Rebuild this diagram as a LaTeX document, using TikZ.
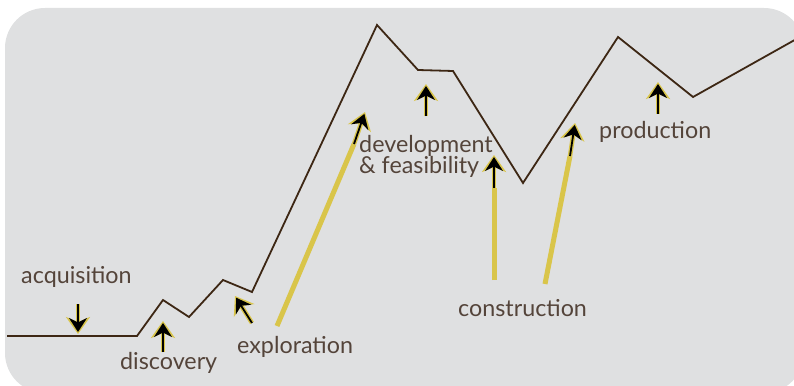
\documentclass[tikz,border=0pt]{standalone}
\usepackage{fontspec}
\setmainfont{Lato}
\usetikzlibrary{arrows.meta}
\definecolor{bgc}{HTML}{DFE0E1}
\definecolor{ridge}{HTML}{3D2714}
\definecolor{txt}{HTML}{54443A}
\definecolor{glow}{HTML}{D9C54A}
\tikzset{
  lbl/.style={anchor=base west, inner sep=0pt, text=txt, font=\fontsize{23.3}{23.3}\selectfont},
  glowarrow/.style={glow, line width=4.5pt, -{Stealth[length=17pt,width=24pt,inset=5pt]}},
  blackarrow/.style={black, line width=1.8pt, shorten >=2pt, -{Stealth[length=14pt,width=18pt,inset=4.5pt]}},
  stem/.style={glow, line width=5pt},
}
\begin{document}
\begin{tikzpicture}[x=1pt,y=-1pt]
\useasboundingbox (0,0) rectangle (794,385);
\clip (0,0) rectangle (794,385);
\fill[bgc, rounded corners=40pt] (5,8) rectangle (804,393);
% ridge profile
\coordinate (p0) at (7,336);
\coordinate (p1) at (137,336);
\coordinate (p2) at (163,300);
\coordinate (p3) at (189,317);
\coordinate (p4) at (223,280);
\coordinate (p5) at (252,292);
\coordinate (p6) at (377,25);
\coordinate (p7) at (418,70);
\coordinate (p8) at (453,71);
\coordinate (p9) at (523,183);
\coordinate (p10) at (618,37);
\coordinate (p11) at (693,97);
\coordinate (p12) at (800,37);
\draw[ridge, line width=1.8pt, line join=miter] (p0) -- (p1) -- (p2) -- (p3) -- (p4) -- (p5) -- (p6) -- (p7) -- (p8) -- (p9) -- (p10) -- (p11) -- (p12);
% short arrows
\coordinate (a1s) at (78,304); \coordinate (a1e) at (78,334);
\coordinate (a2s) at (163,352); \coordinate (a2e) at (163,321);
\coordinate (a3s) at (252,323); \coordinate (a3e) at (235,296);
\coordinate (a4s) at (426,116); \coordinate (a4e) at (426,84);
\coordinate (a5s) at (658,114); \coordinate (a5e) at (658,82);
\foreach \s/\e in {a1s/a1e,a2s/a2e,a3s/a3e,a4s/a4e,a5s/a5e}{
  \draw[glowarrow] (\s) -- (\e);
  \draw[blackarrow] (\s) -- (\e);
}
% long arrows
\coordinate (b1s) at (277,326); \coordinate (b1m) at (354,144); \coordinate (b1e) at (365,112);
\coordinate (b2s) at (494,280); \coordinate (b2m) at (494,188); \coordinate (b2e) at (494,155);
\coordinate (b3s) at (545,284); \coordinate (b3m) at (570,156); \coordinate (b3e) at (575,123);
\foreach \s/\m/\e in {b1s/b1m/b1e,b2s/b2m/b2e,b3s/b3m/b3e}{
  \draw[stem] (\s) -- (\m);
  \draw[glowarrow] (\m) -- (\e);
  \draw[blackarrow] (\m) -- (\e);
}
% labels
\node[lbl] (acq) at (21,283) {acquisition};
\node[lbl] (dis) at (120,369) {discovery};
\node[lbl] (exp) at (237,353) {exploration};
\node[lbl] (dev) at (359,152) {development};
\node[lbl] (fea) at (359,173) {\& feasibility};
\node[lbl] (pro) at (599,138) {production};
\node[lbl] (con) at (458,316) {construction};
\end{tikzpicture}
\end{document}
